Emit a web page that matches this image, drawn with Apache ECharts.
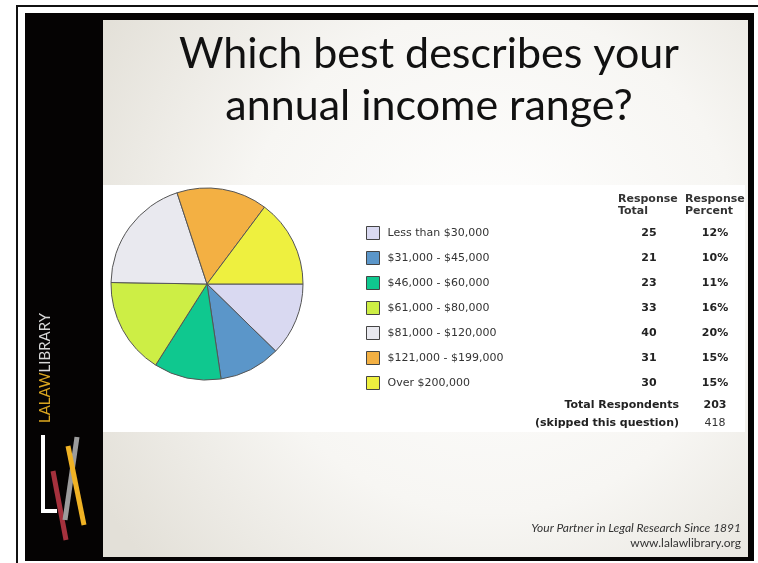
<!DOCTYPE html>
<html>
<head>
<meta charset="utf-8">
<title>Which best describes your annual income range?</title>
<script src="https://cdn.jsdelivr.net/npm/echarts@6/dist/echarts.min.js"></script>
<style>
  html, body { margin: 0; padding: 0; background: #ffffff; }
  #chart { width: 758px; height: 563px; }
</style>
</head>
<body>
<div id="chart"></div>
<script>
// Survey answers: annual income range
const categories = [
  'Less than $30,000',
  '$31,000 - $45,000',
  '$46,000 - $60,000',
  '$61,000 - $80,000',
  '$81,000 - $120,000',
  '$121,000 - $199,000',
  'Over $200,000'
];
const responseTotals = [25, 21, 23, 33, 40, 31, 30];
const skippedCount = 418;
const sliceColors = ['#d9d9f1', '#5b96c9', '#0fc88f', '#cdee45', '#e9e9ef', '#f3b043', '#eef03f'];

const totalRespondents = responseTotals.reduce((a, b) => a + b, 0);
const responsePercents = responseTotals.map(v => Math.round(v / totalRespondents * 100) + '%');

const chart = echarts.init(document.getElementById('chart'), null, { renderer: 'canvas' });

const tableFont = 'DejaVu Sans, Verdana, sans-serif';
const titleFont = '43px Lato, "Open Sans", sans-serif';
const rowY0 = 233, rowStep = 25;
const totalColX = 649, pctColX = 715;

const graphics = [];

// outer thin rule
graphics.push({ type: 'rect', shape: { x: 17, y: 6, width: 800, height: 600 },
  style: { fill: 'none', stroke: '#111', lineWidth: 2 }, z: 0 });
// slide frame
graphics.push({ type: 'rect', shape: { x: 25, y: 13, width: 729, height: 548 },
  style: { fill: '#050303' }, z: 1 });
// slide body
graphics.push({ type: 'rect', shape: { x: 103, y: 20, width: 645, height: 537 },
  style: { fill: { type: 'radial', x: 0.6, y: 0.45, r: 0.85,
    colorStops: [{ offset: 0, color: '#ffffff' }, { offset: 0.55, color: '#f7f6f3' }, { offset: 1, color: '#e3e0d8' }] } }, z: 2 });
// survey panel
graphics.push({ type: 'rect', shape: { x: 103, y: 185, width: 642, height: 247 },
  style: { fill: '#ffffff' }, z: 3 });

// title
graphics.push({ type: 'text', x: 429, y: 54, z: 5,
  style: { text: 'Which best describes your', fill: '#111', font: titleFont,
    align: 'center', verticalAlign: 'middle' } });
graphics.push({ type: 'text', x: 429, y: 106, z: 5,
  style: { text: 'annual income range?', fill: '#111', font: titleFont,
    align: 'center', verticalAlign: 'middle' } });

// sidebar brand text
graphics.push({ type: 'text', x: 45, y: 368, rotation: Math.PI / 2, z: 5,
  style: { text: '{a|LALAW}{b|LIBRARY}', align: 'center', verticalAlign: 'middle',
    rich: {
      a: { fill: '#d9a520', font: '15px Lato, "Open Sans", sans-serif' },
      b: { fill: '#d8d8d8', font: '15px Lato, "Open Sans", sans-serif' }
    } } });
// sidebar logo
graphics.push({ type: 'polyline', z: 5, shape: { points: [[43, 435], [43, 511], [57, 511]] },
  style: { stroke: '#ffffff', lineWidth: 4, fill: 'none', lineCap: 'butt', lineJoin: 'miter' } });
graphics.push({ type: 'line', z: 6, shape: { x1: 53, y1: 471, x2: 66, y2: 540 },
  style: { stroke: '#a5313d', lineWidth: 5 } });
graphics.push({ type: 'line', z: 7, shape: { x1: 77, y1: 437, x2: 65, y2: 520 },
  style: { stroke: '#9c9c9c', lineWidth: 5 } });
graphics.push({ type: 'line', z: 8, shape: { x1: 68, y1: 446, x2: 84, y2: 525 },
  style: { stroke: '#f0b224', lineWidth: 5 } });

// footer
graphics.push({ type: 'text', x: 741, y: 528, z: 5,
  style: { text: 'Your Partner in Legal Research Since 1891', fill: '#333',
    font: 'italic 12px Lato, "Open Sans", sans-serif', align: 'right', verticalAlign: 'middle' } });
graphics.push({ type: 'text', x: 741, y: 543, z: 5,
  style: { text: 'www.lalawlibrary.org', fill: '#333',
    font: '12px Lato, "Open Sans", sans-serif', align: 'right', verticalAlign: 'middle' } });

// table headers
graphics.push({ type: 'text', x: 618, y: 205, z: 5,
  style: { text: 'Response\nTotal', fill: '#333', font: 'bold 11px ' + tableFont,
    align: 'left', verticalAlign: 'middle', lineHeight: 12 } });
graphics.push({ type: 'text', x: 685, y: 205, z: 5,
  style: { text: 'Response\nPercent', fill: '#333', font: 'bold 11px ' + tableFont,
    align: 'left', verticalAlign: 'middle', lineHeight: 12 } });

// table rows
responseTotals.forEach((v, i) => {
  const y = rowY0 + i * rowStep;
  graphics.push({ type: 'text', x: totalColX, y: y, z: 5,
    style: { text: String(v), fill: '#222', font: 'bold 11px ' + tableFont, align: 'center', verticalAlign: 'middle' } });
  graphics.push({ type: 'text', x: pctColX, y: y, z: 5,
    style: { text: responsePercents[i], fill: '#222', font: 'bold 11px ' + tableFont, align: 'center', verticalAlign: 'middle' } });
});

// summary rows
graphics.push({ type: 'text', x: 679, y: 405, z: 5,
  style: { text: 'Total Respondents', fill: '#222', font: 'bold 11px ' + tableFont, align: 'right', verticalAlign: 'middle' } });
graphics.push({ type: 'text', x: pctColX, y: 405, z: 5,
  style: { text: String(totalRespondents), fill: '#222', font: 'bold 11px ' + tableFont, align: 'center', verticalAlign: 'middle' } });
graphics.push({ type: 'text', x: 679, y: 423, z: 5,
  style: { text: '(skipped this question)', fill: '#222', font: 'bold 11px ' + tableFont, align: 'right', verticalAlign: 'middle' } });
graphics.push({ type: 'text', x: pctColX, y: 423, z: 5,
  style: { text: String(skippedCount), fill: '#333', font: '11px ' + tableFont, align: 'center', verticalAlign: 'middle' } });

const option = {
  animation: false,
  backgroundColor: '#ffffff',
  color: sliceColors,
  graphic: { elements: graphics },
  legend: {
    orient: 'vertical',
    left: 361,
    top: 221,
    padding: 5,
    itemWidth: 13,
    itemHeight: 13,
    itemGap: 11,
    icon: 'rect',
    selectedMode: false,
    z: 10,
    data: categories,
    itemStyle: { borderColor: '#444', borderWidth: 1 },
    textStyle: { fontFamily: tableFont, fontSize: 11, color: '#333', lineHeight: 13, padding: [0, 0, 0, 3] }
  },
  series: [{
    type: 'pie',
    z: 10,
    center: [207, 284],
    radius: 96,
    startAngle: 0,
    clockwise: true,
    silent: true,
    label: { show: false },
    labelLine: { show: false },
    itemStyle: { borderColor: '#555', borderWidth: 1 },
    data: categories.map((name, i) => ({ name: name, value: responseTotals[i] }))
  }]
};

chart.setOption(option);
</script>
</body>
</html>
